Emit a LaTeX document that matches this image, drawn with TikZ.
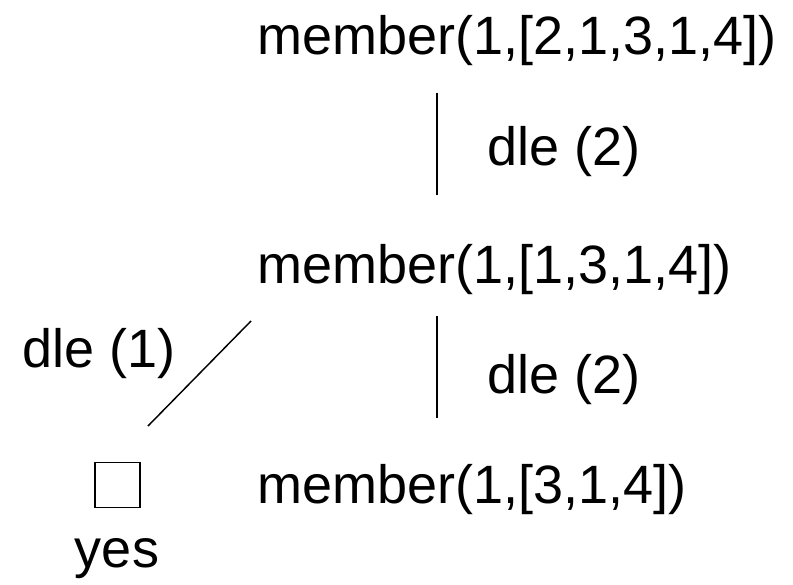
\documentclass[tikz,border=0pt]{standalone}
\usepackage{fontspec}
\setmainfont{Liberation Sans}
\usetikzlibrary{positioning}
\tikzset{
  goal/.style={anchor=base west,inner sep=0pt,font=\fontsize{40.5}{48}\selectfont},
  rulelabel/.style={goal},
  edge/.style={line width=1.1pt},
  emptygoal/.style={draw,line width=1.1pt,minimum size=33.75pt,inner sep=0pt}
}
\begin{document}
\begin{tikzpicture}[x=0.75pt,y=-0.75pt]
  \useasboundingbox (0,0) rectangle (793,585);

  % goals of the derivation
  \node[goal] (g1) at (257,55) {member(1,[2,1,3,1,4])};
  \node[goal] (g2) at (257,283) {member(1,[1,3,1,4])};
  \node[goal] (g3) at (257,503) {member(1,[3,1,4])};

  % empty clause
  \node[emptygoal] (done) at (117.5,485) {};
  \node[goal,anchor=base] (yes) at (117,567) {yes};

  % end points of the edges
  \coordinate (e1a) at (437,93);
  \coordinate (e1b) at (437,195);
  \coordinate (e2a) at (437,316);
  \coordinate (e2b) at (437,418);
  \coordinate (e3a) at (251,321);
  \coordinate (e3b) at (148,426);

  \draw[edge] (e1a) -- (e1b);
  \draw[edge] (e2a) -- (e2b);
  \draw[edge] (e3a) -- (e3b);

  % clause used at each step
  \node[rulelabel] (r1) at (487,166) {dle (2)};
  \node[rulelabel] (r2) at (487,393) {dle (2)};
  \node[rulelabel] (r3) at (22,367) {dle (1)};
\end{tikzpicture}
\end{document}
